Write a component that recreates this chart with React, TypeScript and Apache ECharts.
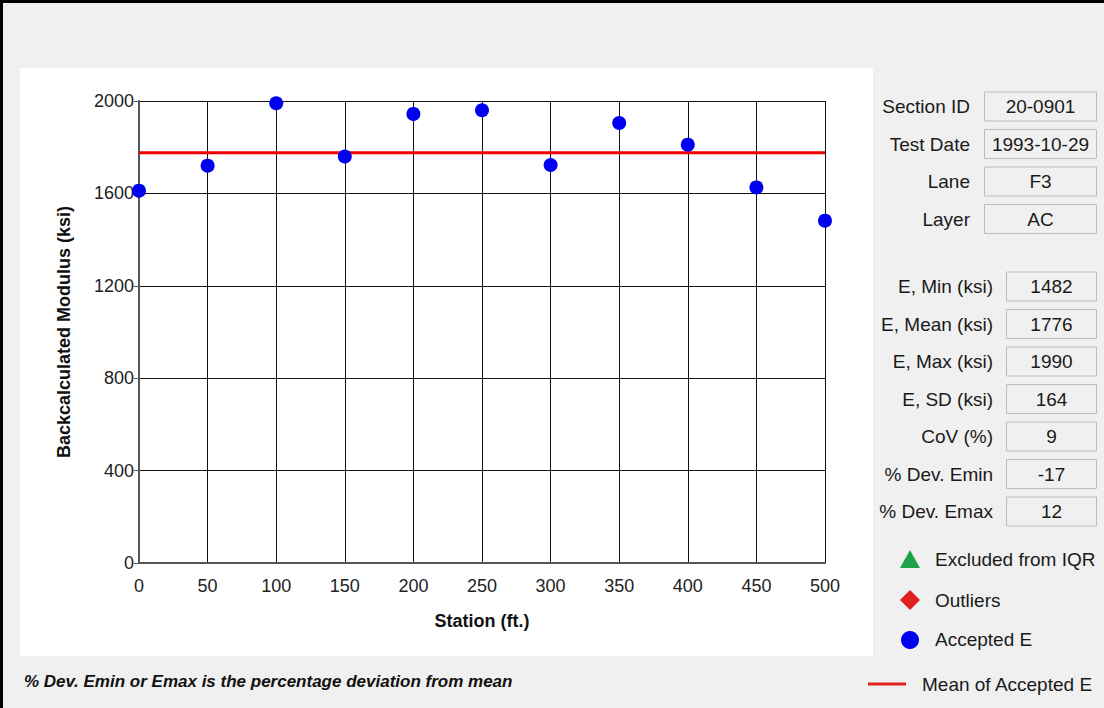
import React, { useEffect, useRef } from "react";
import * as echarts from "echarts";

const stations = [0, 50, 100, 150, 200, 250, 300, 350, 400, 450, 500];
const moduli = [1612, 1720, 1990, 1760, 1944, 1960, 1723, 1905, 1811, 1626, 1482];
const meanE = 1776;
const yTicks = [0, 400, 800, 1200, 1600, 2000];

const infoLabels = ["Section ID", "Test Date", "Lane", "Layer"];
const infoValues = ["20-0901", "1993-10-29", "F3", "AC"];
const statLabels = ["E, Min (ksi)", "E, Mean (ksi)", "E, Max (ksi)", "E, SD (ksi)", "CoV (%)", "% Dev. Emin", "% Dev. Emax"];
const statValues = ["1482", "1776", "1990", "164", "9", "-17", "12"];
const legendLabels = ["Excluded from IQR", "Outliers", "Accepted E", "Mean of Accepted E"];
const footnote = "% Dev. Emin or Emax is the percentage deviation from mean";

const FONT = "'Liberation Sans', Arial, sans-serif";

export default function App() {
  const ref = useRef<HTMLDivElement>(null);
  useEffect(() => {
    if (!ref.current) return;
    const chart = echarts.init(ref.current, undefined, { renderer: "svg" });
    const graphics: any[] = [];
    graphics.push({ type: "rect", z: -100, silent: true, shape: { x: 20, y: 68, width: 853, height: 588 }, style: { fill: "#ffffff" } });
    graphics.push({ type: "line", shape: { x1: 0, y1: 1.5, x2: 1104, y2: 1.5 }, style: { stroke: "#000", lineWidth: 3 } });
    graphics.push({ type: "line", shape: { x1: 1.5, y1: 0, x2: 1.5, y2: 708 }, style: { stroke: "#000", lineWidth: 3 } });
    const labelFont = `19px ${FONT}`;
    infoLabels.forEach((l, i) => {
      const cy = 106.5 + i * 37.5;
      graphics.push({ type: "text", style: { text: l, x: 970, y: cy, textAlign: "right", textVerticalAlign: "middle", font: labelFont, fill: "#1a1a1a" } });
      graphics.push({ type: "rect", shape: { x: 984.5, y: cy - 14.5, width: 112, height: 29 }, style: { fill: "#f0f0f0", stroke: "#bcbcbc", lineWidth: 1 } });
      graphics.push({ type: "text", style: { text: infoValues[i], x: 1040.5, y: cy, textAlign: "center", textVerticalAlign: "middle", font: labelFont, fill: "#1a1a1a" } });
    });
    statLabels.forEach((l, i) => {
      const cy = 286.5 + i * 37.5;
      graphics.push({ type: "text", style: { text: l, x: 993, y: cy, textAlign: "right", textVerticalAlign: "middle", font: labelFont, fill: "#1a1a1a" } });
      graphics.push({ type: "rect", shape: { x: 1006.5, y: cy - 14.5, width: 90, height: 29 }, style: { fill: "#f0f0f0", stroke: "#bcbcbc", lineWidth: 1 } });
      graphics.push({ type: "text", style: { text: statValues[i], x: 1051.5, y: cy, textAlign: "center", textVerticalAlign: "middle", font: labelFont, fill: "#1a1a1a" } });
    });
    // legend
    graphics.push({ type: "polygon", shape: { points: [[910, 550], [920, 568], [900, 568]] }, style: { fill: "#1fa34a" } });
    graphics.push({ type: "polygon", shape: { points: [[910, 590], [920, 600], [910, 610], [900, 600]] }, style: { fill: "#e0201f" } });
    graphics.push({ type: "circle", shape: { cx: 910, cy: 640, r: 9 }, style: { fill: "#0000ee" } });
    graphics.push({ type: "line", shape: { x1: 868, y1: 684, x2: 906, y2: 684 }, style: { stroke: "#e0201f", lineWidth: 3 } });
    const legY = [559, 600, 639, 684];
    const legX = [935, 935, 935, 922];
    legendLabels.forEach((l, i) => {
      graphics.push({ type: "text", style: { text: l, x: legX[i], y: legY[i], textAlign: "left", textVerticalAlign: "middle", font: labelFont, fill: "#1a1a1a" } });
    });
    graphics.push({ type: "text", style: { text: footnote, x: 24, y: 681, textAlign: "left", textVerticalAlign: "middle", font: `italic bold 17px ${FONT}`, fill: "#111" } });

    chart.setOption({
      animation: false,
      backgroundColor: "#f0f0f0",
      textStyle: { fontFamily: FONT },
      grid: { left: 139, right: 279, top: 101, bottom: 145, containLabel: false },
      xAxis: {
        type: "value", min: 0, max: 500, interval: 50,
        name: "Station (ft.)", nameLocation: "middle", nameGap: 49,
        nameTextStyle: { fontSize: 18, fontWeight: "bold", color: "#111", fontFamily: FONT },
        axisLine: { show: true, lineStyle: { color: "#555", width: 2 } },
        axisTick: { show: false },
        axisLabel: { fontSize: 18, color: "#222", margin: 14, fontFamily: FONT },
        splitLine: { show: true, lineStyle: { color: "#111", width: 1 } },
      },
      yAxis: {
        type: "value", min: yTicks[0], max: yTicks[yTicks.length - 1], interval: yTicks[1] - yTicks[0],
        name: "Backcalculated Modulus (ksi)", nameLocation: "middle", nameGap: 66,
        nameTextStyle: { fontSize: 18, fontWeight: "bold", color: "#111", fontFamily: FONT },
        axisLine: { show: true, lineStyle: { color: "#555", width: 2 } },
        axisTick: { show: true, length: 5, lineStyle: { color: "#555" } },
        axisLabel: { fontSize: 18, color: "#222", margin: 5, fontFamily: FONT, formatter: (v: number) => String(v) },
        splitLine: { show: true, lineStyle: { color: "#111", width: 1 } },
      },
      series: [
        {
          type: "line", data: [[stations[0], meanE], [stations[stations.length - 1], meanE]],
          symbol: "none", lineStyle: { color: "#f00000", width: 3 }, z: 3, silent: true,
        },
        {
          type: "scatter", data: stations.map((s, i) => [s, moduli[i]]),
          symbol: "circle", symbolSize: 14, itemStyle: { color: "#0000f0", opacity: 1 }, z: 4,
        },
      ],
      graphic: { elements: graphics },
    });
    return () => chart.dispose();
  }, []);
  return <div ref={ref} style={{ position: "fixed", left: 0, top: 0, width: 1104, height: 708 }} />;
}
